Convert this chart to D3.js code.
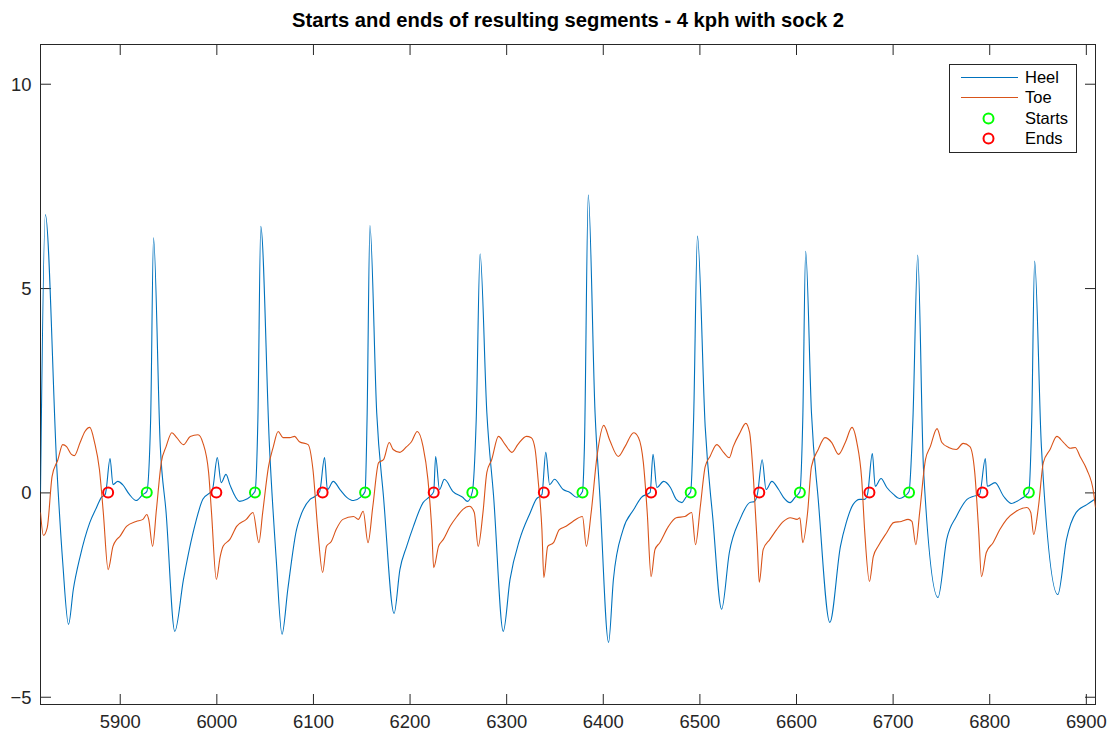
<!DOCTYPE html>
<html>
<head>
<meta charset="utf-8">
<script src="https://cdn.jsdelivr.net/npm/d3@7"></script>
<style>
  html, body { margin: 0; padding: 0; background: #ffffff; }
  svg { display: block; font-family: "Liberation Sans", Arial, Helvetica, sans-serif; }
</style>
</head>
<body>
<svg id="chart" width="1114" height="737"></svg>
<script>
// Heel pressure signal (sample index, value)
const heelX = [5818,5823,5835,5841,5847,5852,5859,5869,5876,5881,5885,5886,5890,5893,5898,5903,5910,5917,5924,5928,5932,5935,5942,5948,5957,5966,5976,5986,5996,6001,6005,6010,6014,6024,6031,6040,6043,6046,6055,6062,6068,6074,6083,6086,6097,6102,6107,6112,6115,6121,6128,6135,6142,6149,6154,6156,6159,6166,6173,6184,6190,6197,6204,6214,6221,6225,6227,6231,6236,6245,6255,6260,6265,6269,6273,6280,6287,6297,6304,6314,6325,6331,6337,6341,6345,6350,6359,6366,6373,6379,6381,6385,6392,6397,6406,6411,6421,6432,6440,6449,6452,6456,6463,6470,6476,6482,6486,6491,6494,6498,6506,6514,6523,6531,6542,6552,6557,6560,6565,6569,6575,6582,6587,6594,6599,6604,6607,6610,6616,6623,6635,6646,6652,6659,6666,6671,6674,6679,6682,6688,6694,6701,6707,6712,6717,6721,6726,6732,6747,6756,6766,6777,6783,6790,6796,6798,6806,6815,6823,6832,6838,6841,6844,6847,6854,6871,6880,6890,6901,6909];
const heelY = [0.02,6.80,0.56,-1.71,-3.23,-2.37,-1.57,-0.74,-0.37,-0.12,-0.05,0.07,0.83,0.19,0.27,0.19,-0.05,-0.20,-0.05,0.02,1.78,6.23,1.12,-0.49,-3.40,-2.13,-0.98,-0.17,0.07,0.85,0.24,0.44,0.19,-0.22,-0.17,0.02,1.78,6.51,1.12,-1.64,-3.47,-2.37,-0.91,-0.66,-0.17,-0.10,0.02,0.85,0.07,0.27,0.07,-0.12,-0.20,-0.12,0.02,1.78,6.53,1.95,-0.10,-2.96,-1.89,-1.32,-0.83,-0.25,-0.10,0.02,0.88,0.07,0.32,0.02,-0.12,-0.22,0.02,1.78,5.84,1.95,-0.10,-3.40,-2.13,-1.15,-0.49,-0.17,-0.05,0.98,0.19,0.32,0.07,0.00,-0.12,0.02,1.12,7.28,1.95,-0.10,-3.67,-2.13,-0.91,-0.42,-0.12,0.00,0.93,0.12,0.27,0.12,-0.17,-0.25,-0.12,0.02,1.78,6.27,1.61,-0.66,-2.86,-1.47,-0.66,-0.25,-0.22,-0.05,0.80,0.07,0.27,0.07,-0.12,-0.25,-0.12,0.02,1.78,5.90,1.95,-0.17,-3.18,-1.32,-0.74,-0.30,-0.17,-0.17,-0.05,0.95,0.15,0.34,0.12,-0.05,-0.15,-0.10,0.02,1.78,5.81,0.56,-2.57,-1.15,-0.59,-0.17,-0.10,-0.05,0.83,0.15,0.24,-0.10,-0.27,-0.17,-0.07,0.02,1.78,5.66,1.12,-2.50,-1.15,-0.49,-0.30,-0.17];

// Toe pressure signal (sample index, value)
const toeX = [5818,5821,5825,5830,5836,5841,5845,5850,5853,5859,5864,5869,5874,5879,5883,5888,5893,5897,5900,5907,5917,5924,5928,5930,5934,5938,5943,5948,5954,5959,5966,5973,5981,5986,5992,5995,6000,6004,6007,6014,6021,6031,6038,6044,6048,6054,6059,6064,6069,6076,6081,6086,6095,6100,6105,6110,6114,6119,6124,6131,6142,6147,6152,6157,6162,6168,6173,6179,6183,6190,6197,6202,6208,6214,6219,6223,6225,6230,6235,6242,6249,6255,6262,6267,6271,6276,6280,6285,6292,6299,6306,6312,6321,6326,6330,6333,6337,6339,6343,6349,6355,6362,6369,6379,6383,6388,6394,6401,6407,6416,6423,6432,6437,6442,6446,6450,6454,6459,6468,6476,6485,6492,6496,6501,6506,6511,6518,6525,6531,6535,6542,6548,6552,6556,6560,6562,6566,6573,6580,6587,6594,6601,6604,6607,6612,6616,6623,6630,6637,6644,6651,6658,6663,6668,6671,6676,6680,6685,6694,6701,6709,6716,6720,6724,6728,6734,6739,6746,6751,6758,6766,6773,6780,6785,6789,6792,6797,6804,6811,6818,6828,6839,6843,6846,6851,6856,6863,6870,6877,6884,6889,6894,6901,6908,6910];
const toeY = [-0.49,-1.05,-0.86,0.39,0.80,1.17,1.12,0.93,0.90,1.22,1.49,1.59,1.22,0.56,-0.49,-1.89,-1.32,-1.15,-1.08,-0.83,-0.71,-0.66,-0.54,-0.66,-1.32,-0.42,0.73,1.12,1.46,1.34,1.17,1.37,1.41,1.22,0.49,-0.49,-2.13,-1.57,-1.32,-1.15,-0.83,-0.66,-0.49,-1.23,-0.49,0.63,1.12,1.49,1.34,1.34,1.37,1.24,1.17,0.56,-0.91,-1.96,-1.32,-1.20,-0.91,-0.66,-0.59,-0.66,-0.46,-1.23,-0.34,0.73,0.80,1.22,1.05,0.98,1.12,1.24,1.49,1.12,0.32,-0.91,-1.84,-1.32,-1.15,-0.83,-0.59,-0.42,-0.34,-0.49,-1.32,-0.49,0.49,0.80,1.37,1.17,0.98,1.17,1.37,1.34,1.05,0.32,-0.91,-2.08,-1.32,-1.23,-0.91,-0.83,-0.71,-0.59,-1.32,-0.49,0.88,1.64,1.29,0.88,1.12,1.46,1.34,0.73,-0.49,-2.06,-1.40,-1.23,-0.83,-0.62,-0.59,-0.49,-1.28,-0.34,0.63,0.88,1.17,0.98,0.85,1.12,1.46,1.69,1.46,0.32,-1.32,-2.20,-1.40,-1.15,-0.91,-0.71,-0.62,-0.66,-0.62,-1.23,-0.49,0.63,1.05,1.34,1.22,0.93,1.22,1.59,1.22,0.32,-0.91,-2.18,-1.57,-1.32,-0.98,-0.74,-0.71,-0.66,-0.71,-1.28,-0.49,0.80,1.12,1.56,1.22,1.10,1.05,1.20,1.12,0.49,-0.91,-2.06,-1.47,-1.23,-0.91,-0.66,-0.46,-0.37,-0.49,-1.03,-0.34,0.73,1.05,1.37,1.22,1.08,1.10,0.88,0.56,0.00,-0.37];

// Detected segment boundaries (all on the zero line)
const startsX = [5928,6040,6154,6265,6379,6491,6604,6717,6841];
const endsX   = [5888,6000,6110,6225,6339,6450,6562,6676,6793];

// Axis ticks
const xTicks = [5900,6000,6100,6200,6300,6400,6500,6600,6700,6800,6900];
const yTicks = [-5,0,5,10];

const titleText = "Starts and ends of resulting segments - 4 kph with sock 2";
const legendLabels = ["Heel","Toe","Starts","Ends"];

const colHeel = "#0072BD", colToe = "#D95319", colStart = "#00FF00", colEnd = "#FF0000";
const axisCol = "#262626";

const pL = 40.5, pR = 1095.5, pT = 44.5, pB = 704.5;
const svg = d3.select("#chart");

const x = d3.scaleLinear().domain([5818, 6910]).range([pL, pR]);
const y = d3.scaleLinear().domain([-5.19, 10.96]).range([pB, pT]);

svg.append("defs").append("clipPath").attr("id", "plotclip")
  .append("rect").attr("x", pL).attr("y", pT).attr("width", pR - pL).attr("height", pB - pT);

// axes frame and ticks (ticks inward on all four sides)
const tickLen = 10.5;
const axisFont = 18.4;

const gx = svg.append("g").attr("transform", `translate(0,${pB})`)
  .call(d3.axisBottom(x).tickValues(xTicks).tickSizeInner(-tickLen).tickSizeOuter(0).tickFormat(d3.format("d")));
const gxTop = svg.append("g").attr("transform", `translate(0,${pT})`)
  .call(d3.axisTop(x).tickValues(xTicks).tickSizeInner(-tickLen).tickSizeOuter(0).tickFormat(""));
const gy = svg.append("g").attr("transform", `translate(${pL},0)`)
  .call(d3.axisLeft(y).tickValues(yTicks).tickSizeInner(-tickLen).tickSizeOuter(0).tickFormat(d3.format("d")));
const gyR = svg.append("g").attr("transform", `translate(${pR},0)`)
  .call(d3.axisRight(y).tickValues(yTicks).tickSizeInner(-tickLen).tickSizeOuter(0).tickFormat(""));

[gx, gxTop, gy, gyR].forEach(g => {
  g.select(".domain").remove();
  g.selectAll("line").attr("stroke", axisCol).attr("stroke-width", 1);
  g.selectAll("text").attr("fill", axisCol).attr("font-size", axisFont)
    .attr("font-family", '"Liberation Sans", Arial, Helvetica, sans-serif');
});
gx.selectAll("text").attr("dy", null).attr("y", 23.5);
gy.selectAll("text").attr("x", -9).attr("dy", "0.35em");

svg.append("rect").attr("x", pL).attr("y", pT).attr("width", pR - pL).attr("height", pB - pT)
  .attr("fill", "none").attr("stroke", axisCol).attr("stroke-width", 1);

// signals
const heel = heelX.map((v, i) => [v, heelY[i]]);
const toe = toeX.map((v, i) => [v, toeY[i]]);
const line = d3.line().x(d => x(d[0])).y(d => y(d[1])).curve(d3.curveMonotoneX);

const plot = svg.append("g").attr("clip-path", "url(#plotclip)");
plot.append("path").datum(heel).attr("d", line).attr("fill", "none")
  .attr("stroke", colHeel).attr("stroke-width", 1.1).attr("stroke-linejoin", "round");
plot.append("path").datum(toe).attr("d", line).attr("fill", "none")
  .attr("stroke", colToe).attr("stroke-width", 1.1).attr("stroke-linejoin", "round");

// markers
plot.selectAll("circle.start").data(startsX).join("circle").attr("class", "start")
  .attr("cx", d => x(d)).attr("cy", y(0)).attr("r", 5)
  .attr("fill", "none").attr("stroke", colStart).attr("stroke-width", 2);
plot.selectAll("circle.end").data(endsX).join("circle").attr("class", "end")
  .attr("cx", d => x(d)).attr("cy", y(0)).attr("r", 5)
  .attr("fill", "none").attr("stroke", colEnd).attr("stroke-width", 2);

// title
svg.append("text").attr("x", (pL + pR) / 2).attr("y", 27).attr("text-anchor", "middle")
  .attr("font-size", 20.2).attr("font-weight", "bold").attr("fill", "#000").text(titleText);

// legend
const lg = svg.append("g");
lg.append("rect").attr("x", 949.5).attr("y", 64.5).attr("width", 127).attr("height", 88)
  .attr("fill", "#fff").attr("stroke", axisCol).attr("stroke-width", 1);
const rows = [77.5, 97.5, 118.5, 138.5];
const kinds = ["line", "line", "circle", "circle"];
const cols = [colHeel, colToe, colStart, colEnd];
legendLabels.forEach((lab, i) => {
  if (kinds[i] === "line") {
    lg.append("line").attr("x1", 961).attr("x2", 1018).attr("y1", rows[i]).attr("y2", rows[i])
      .attr("stroke", cols[i]).attr("stroke-width", 1.1);
  } else {
    lg.append("circle").attr("cx", 988.5).attr("cy", rows[i]).attr("r", 5)
      .attr("fill", "none").attr("stroke", cols[i]).attr("stroke-width", 2);
  }
  lg.append("text").attr("x", 1025).attr("y", rows[i]).attr("dy", "0.36em")
    .attr("font-size", 16.5).attr("fill", "#000").text(lab);
});
</script>
</body>
</html>
